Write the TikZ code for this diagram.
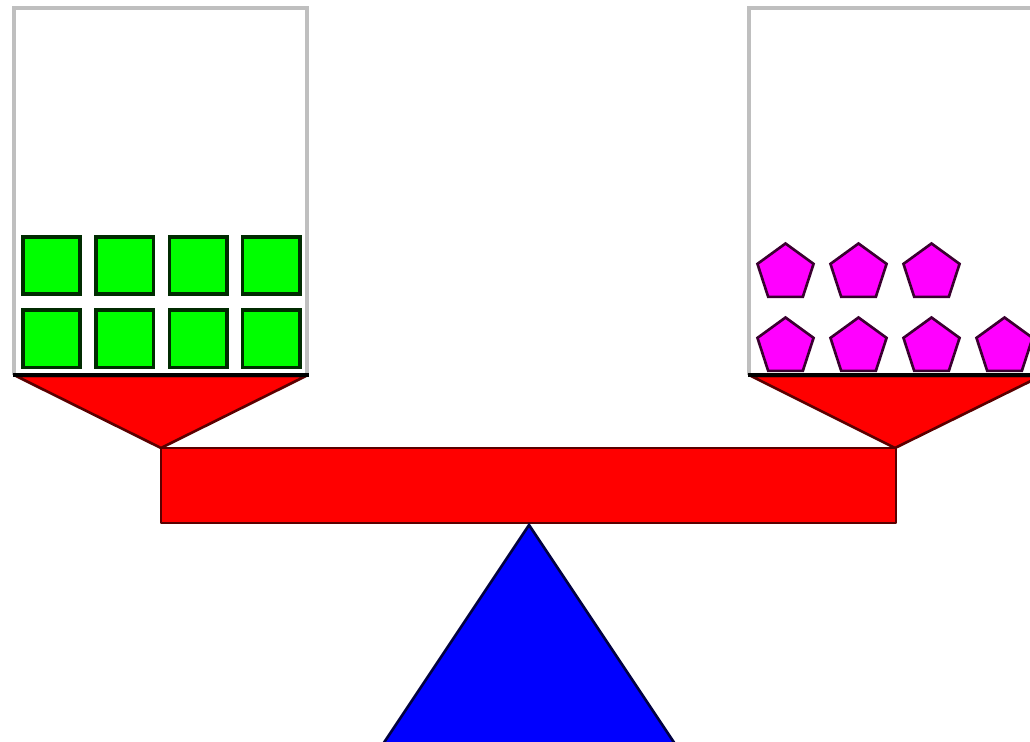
\documentclass[tikz,border=0pt]{standalone}
\usetikzlibrary{shapes.geometric}
\definecolor{boxgray}{HTML}{BFBFBF}
\definecolor{blockgreen}{HTML}{00FF00}
\definecolor{blockedge}{HTML}{002B00}
\definecolor{gemfill}{HTML}{FF00FF}
\definecolor{gemedge}{HTML}{3A0030}
\definecolor{beamred}{HTML}{FF0000}
\definecolor{beamedge}{HTML}{5A0000}
\definecolor{fulcblue}{HTML}{0000FF}
\definecolor{fulcedge}{HTML}{000040}
\tikzset{
  pan/.style={draw=boxgray, line width=2pt},
  panfloor/.style={draw=black, line width=1.8pt},
  block/.style={draw=blockedge, fill=blockgreen, line width=2pt,
    minimum size=1.15cm, inner sep=0pt},
  gem/.style={regular polygon, regular polygon sides=5, draw=gemedge,
    fill=gemfill, line width=1.5pt, minimum size=1.18cm, inner sep=0pt},
  redpart/.style={draw=beamedge, fill=beamred, line width=1.5pt, line join=round},
  fulcrum/.style={draw=fulcedge, fill=fulcblue, line width=1.5pt},
}
\begin{document}
\begin{tikzpicture}[x=0.02cm,y=-0.02cm]
\useasboundingbox (0,0) rectangle (1030,742);
\clip (0,0) rectangle (1030,742);
% pans
\draw[pan] (14,375) -- (14,8) -- (307,8) -- (307,375);
\draw[pan] (749,375) -- (749,8) -- (1040,8);
% funnels under the pans
\draw[redpart] (16,376) -- (306,376) -- (161,448) -- cycle;
\draw[redpart] (751,376) -- (1041,376) -- (895,448) -- cycle;
\draw[panfloor] (13,375) -- (309,375)
(748,375) -- (1040,375);
% beam and fulcrum
\draw[redpart] (161,448) rectangle (896,523);
\draw[fulcrum] (529,525) -- (383,744) -- (675,744) -- cycle;
% left load: green squares
\foreach \col in {0,...,3}
  \foreach \row in {0,1}
    \node[block] (sq-\row-\col) at ({51.5+73.3*\col},{265.5+73.5*\row}) {};
% right load: pentagons
\foreach \col in {0,...,2}
  \node[gem] (pt-\col) at ({785.5+73*\col},273) {};
\foreach \col in {0,...,3}
  \node[gem] (pb-\col) at ({785.5+73*\col},347) {};
\end{tikzpicture}
\end{document}
